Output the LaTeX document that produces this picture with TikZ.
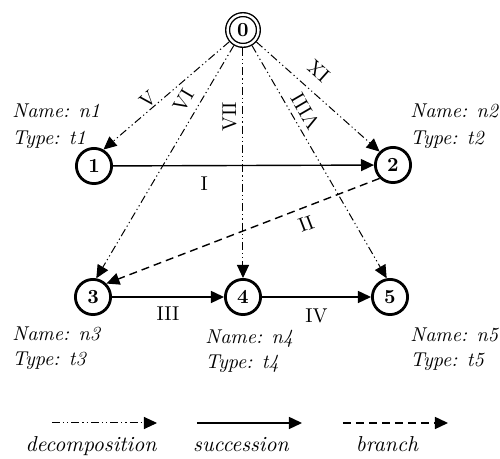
\documentclass[tikz,border=0pt]{standalone}
\usetikzlibrary{arrows.meta}
\begin{document}
\begin{tikzpicture}[x=0.5pt,y=-0.5pt,
    state/.style={circle,draw,line width=1.4pt,minimum size=17.6pt,inner sep=0pt,font=\bfseries},
    root/.style={circle,draw,double,line width=0.7pt,double distance=1.2pt,minimum size=15.4pt,inner sep=0pt,outer sep=1.3pt,font=\bfseries},
    info/.style={anchor=west,align=left,font=\itshape,inner sep=0pt},
    legend/.style={anchor=base,font=\itshape\fontsize{10.8}{13}\selectfont},
    tip/.style={-{Triangle[length=6.5pt,width=6pt]}},
    decomp/.style={tip,line width=0.5pt,dash pattern=on 4pt off 1.5pt on 0.6pt off 1.5pt on 0.6pt off 1.5pt},
    succ/.style={tip,line width=0.7pt},
    branch/.style={tip,line width=0.7pt,dash pattern=on 4pt off 2.5pt},
    lab/.style={sloped,allow upside down,inner sep=1pt}]
      \useasboundingbox (0,0) rectangle (500,459);
      \node[root] (n0) at (243,30) {0};
      \node[state] (n1) at (94,166) {1};
      \node[state] (n2) at (393,165) {2};
      \node[state] (n3) at (93,297) {3};
      \node[state] (n4) at (243,297) {4};
      \node[state] (n5) at (390,297) {5};
      \node[info] (i1) at (12,126) {Name: n1\\[1.5pt]Type: t1};
      \node[info] (i2) at (410,126) {Name: n2\\[1.5pt]Type: t2};
      \node[info] (i3) at (12,348) {Name: n3\\[0.5pt]Type: t3};
      \node[info] (i4) at (205,351) {Name: n4\\[0.5pt]Type: t4};
      \node[info] (i5) at (410,349) {Name: n5\\[0.5pt]Type: t5};
      % decomposition
      \draw[decomp] (n0) -- (n1.60);
      \draw[decomp] (n0) -- (n2.north west);
      \draw[decomp] (n0) -- (n3.80);
      \draw[decomp] (n0) -- (n4.north);
      \draw[decomp] (n0) -- (n5.100);
      \path (n1.60) -- node[lab,above,pos=0.4] {V} (n0);
      \path (n3.80) -- node[lab,above=3pt,pos=0.73] {VI} (n0);
      \path (n4.north) -- node[lab,above=2pt,pos=0.7] {VII} (n0);
      \path (n5.100) -- node[lab,below=2pt,pos=0.69] {VIII} (n0);
      \path (n2.north west) -- node[lab,below=5pt,pos=0.6] {IX} (n0);
      % succession and branch
      \draw[succ] (n1) -- node[below=2pt,pos=0.35] {I} (n2);
      \draw[branch] (n2.south west) -- (n3.north east);
      \path (n3.north east) -- node[sloped,below=1pt,pos=0.71] {II} (n2.south west);
      \draw[succ] (n3) -- node[below=1pt] {III} (n4);
      \draw[succ] (n4) -- node[below=2pt] {IV} (n5);
      % legend
      \coordinate (d0) at (52,423);
      \coordinate (d1) at (157,423);
      \coordinate (s0) at (197,423);
      \coordinate (s1) at (302,423);
      \coordinate (b0) at (343,423);
      \coordinate (b1) at (448,423);
      \draw[decomp] (d0) -- (d1);
      \draw[succ] (s0) -- (s1);
      \draw[branch] (b0) -- (b1);
      \node[legend] (tdec) at (91,452) {decomposition};
      \node[legend] (tsuc) at (241,452) {succession};
      \node[legend] (tbra) at (387,452) {branch};
\end{tikzpicture}
\end{document}
